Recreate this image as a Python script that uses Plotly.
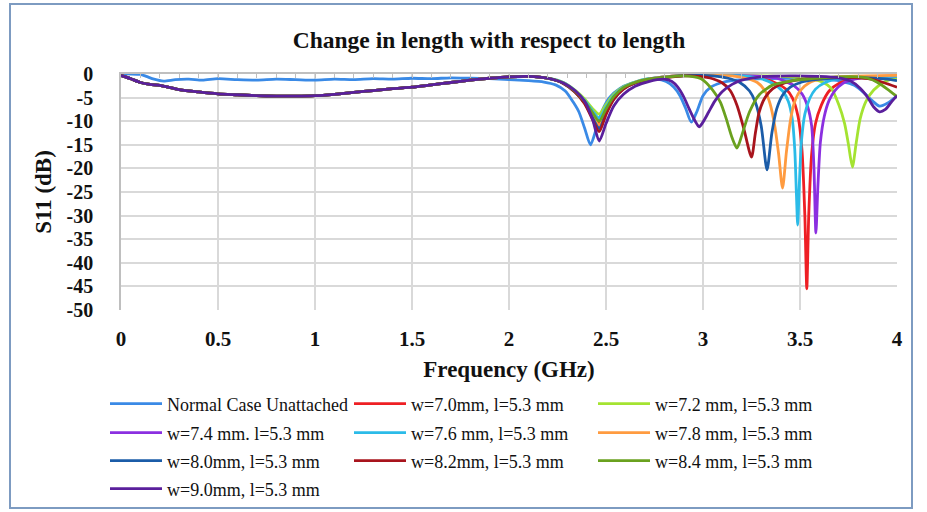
import plotly.graph_objects as go

FONT = "Liberation Serif, Times New Roman, serif"

# ---------------- data ----------------
X_TICKS = [0, 0.5, 1, 1.5, 2, 2.5, 3, 3.5, 4]
X_TICK_TEXT = ["0", "0.5", "1", "1.5", "2", "2.5", "3", "3.5", "4"]
Y_TICKS = [0, -5, -10, -15, -20, -25, -30, -35, -40, -45, -50]
Y_TICK_TEXT = ["0", "-5", "-10", "-15", "-20", "-25", "-30", "-35", "-40", "-45", "-50"]

# Normal case (unattached)
NORMAL_F = [0.00, 0.05, 0.10, 0.13, 0.17, 0.22, 0.28, 0.35, 0.42, 0.50, 0.60, 0.70, 0.80,
            0.90, 1.00, 1.10, 1.20, 1.30, 1.40, 1.50, 1.60, 1.70, 1.80, 1.90, 2.00, 2.10,
            2.18, 2.24, 2.29, 2.33, 2.36, 2.39, 2.42, 2.45, 2.48, 2.52, 2.57, 2.63, 2.70,
            2.76, 2.81, 2.85, 2.88, 2.91, 2.94, 2.97, 3.00, 3.04, 3.09, 3.15, 3.25, 3.40,
            3.55, 3.65, 3.72, 3.78, 3.83, 3.87, 3.91, 3.95, 4.00]
NORMAL_DB = [0.0, 0.0, -0.1, -0.5, -1.1, -1.5, -1.2, -1.1, -1.3, -1.0, -1.2, -1.3, -1.1,
             -1.2, -1.3, -1.1, -1.2, -1.0, -1.1, -0.9, -1.0, -0.8, -0.9, -1.0, -1.2, -1.4,
             -1.7, -2.3, -3.6, -5.9, -8.0, -11.5, -15.0, -11.6, -7.8, -4.9, -3.1, -2.0, -1.4,
             -1.1, -1.6, -2.8, -4.5, -7.2, -10.2, -7.8, -4.6, -2.8, -1.9, -1.4, -1.1, -0.9,
             -1.0, -1.2, -1.6, -2.4, -4.0, -5.6, -6.8, -6.2, -4.6]

# Low band shared by all attached cases (curves overlap there)
W_BASE_F = [0.00, 0.05, 0.10, 0.15, 0.20, 0.30, 0.40, 0.50, 0.60, 0.70, 0.80, 0.90,
            1.00, 1.10, 1.20, 1.30, 1.40, 1.50, 1.60, 1.70, 1.80, 1.90, 2.00, 2.10, 2.20]
W_BASE_DB = [-0.3, -1.0, -1.8, -2.2, -2.4, -3.3, -3.8, -4.2, -4.4, -4.6, -4.7, -4.7,
             -4.6, -4.3, -3.9, -3.5, -3.1, -2.8, -2.3, -1.8, -1.3, -0.9, -0.6, -0.5, -0.9]

# First resonance (around 2.46 GHz) sample frequencies
W_DIP1_F = [2.28, 2.34, 2.39, 2.43, 2.465, 2.50, 2.54, 2.59, 2.65, 2.72, 2.80]

# w = 7.0 mm
W70_DIP1_DB = [-1.9, -3.7, -6.0, -8.6, -10.5, -7.7, -5.0, -3.0, -1.8, -1.1, -0.6]
W70_F = [2.95, 3.10, 3.25, 3.33, 3.39, 3.43, 3.46, 3.49, 3.51, 3.525, 3.535, 3.545,
         3.56, 3.58, 3.61, 3.65, 3.70, 3.77, 3.85, 4.00]
W70_DB = [-0.3, -0.3, -0.6, -1.2, -2.2, -3.3, -5.0, -9.0, -16.0, -30.0, -45.5, -30.0,
          -17.0, -10.5, -6.6, -3.6, -2.0, -1.1, -0.6, -0.4]

# w = 7.2 mm
W72_DIP1_DB = [-1.8, -3.4, -5.3, -7.3, -8.5, -6.5, -4.3, -2.7, -1.7, -1.0, -0.6]
W72_F = [2.95, 3.10, 3.30, 3.45, 3.55, 3.62, 3.66, 3.70, 3.73, 3.75, 3.77, 3.79,
         3.81, 3.84, 3.88, 3.93, 3.97, 4.00]
W72_DB = [-0.3, -0.3, -0.4, -0.6, -1.0, -1.8, -3.0, -6.5, -10.5, -15.0, -19.7, -14.5,
          -9.5, -5.8, -3.4, -1.8, -1.1, -0.8]

# w = 7.4 mm
W74_DIP1_DB = [-1.9, -3.7, -6.1, -9.0, -11.2, -8.1, -5.2, -3.1, -1.9, -1.1, -0.6]
W74_F = [2.95, 3.10, 3.25, 3.38, 3.47, 3.51, 3.54, 3.56, 3.572, 3.582, 3.592, 3.605,
         3.625, 3.65, 3.68, 3.72, 3.78, 3.86, 4.00]
W74_DB = [-0.3, -0.3, -0.4, -0.9, -2.5, -4.2, -7.0, -11.0, -20.0, -33.7, -24.0, -14.5,
          -9.0, -5.6, -3.5, -2.0, -1.1, -0.6, -0.5]

# w = 7.6 mm
W76_DIP1_DB = [-1.8, -3.5, -5.6, -7.8, -9.3, -7.0, -4.6, -2.8, -1.7, -1.0, -0.6]
W76_F = [2.95, 3.10, 3.20, 3.30, 3.36, 3.41, 3.44, 3.46, 3.473, 3.482, 3.488, 3.496,
         3.508, 3.525, 3.55, 3.58, 3.63, 3.70, 3.80, 4.00]
W76_DB = [-0.3, -0.3, -0.4, -1.0, -2.0, -3.6, -5.8, -9.5, -16.0, -26.0, -32.0, -24.0,
          -14.0, -8.5, -5.2, -3.2, -1.8, -1.0, -0.6, -0.5]

# w = 7.8 mm
W78_DIP1_DB = [-1.9, -3.7, -6.0, -8.8, -10.8, -7.9, -5.1, -3.0, -1.8, -1.1, -0.6]
W78_F = [2.95, 3.05, 3.15, 3.22, 3.28, 3.32, 3.345, 3.37, 3.39, 3.41, 3.43, 3.45,
         3.47, 3.50, 3.55, 3.62, 3.75, 4.00]
W78_DB = [-0.3, -0.3, -0.4, -0.9, -1.8, -3.6, -6.2, -11.0, -17.0, -24.2, -16.5, -10.0,
          -6.2, -3.6, -1.8, -1.0, -0.5, -0.3]

# w = 8.0 mm
W80_DIP1_DB = [-2.0, -3.8, -6.2, -9.2, -11.6, -8.3, -5.3, -3.1, -1.9, -1.2, -0.7]
W80_F = [2.95, 3.05, 3.13, 3.19, 3.24, 3.27, 3.30, 3.33, 3.355, 3.38, 3.41, 3.45,
         3.51, 3.58, 3.70, 3.85, 3.95, 4.00]
W80_DB = [-0.3, -0.4, -0.9, -1.8, -3.6, -6.0, -11.0, -20.3, -12.5, -7.4, -4.5, -2.8,
          -1.7, -1.2, -0.8, -0.8, -1.1, -1.4]

# w = 8.2 mm
W82_DIP1_DB = [-2.0, -3.8, -6.3, -9.6, -12.2, -8.6, -5.4, -3.2, -1.9, -1.2, -0.8]
W82_F = [2.90, 2.98, 3.05, 3.10, 3.14, 3.175, 3.21, 3.25, 3.27, 3.29, 3.32, 3.36,
         3.42, 3.48, 3.60, 3.75, 3.85, 3.93, 4.00]
W82_DB = [-0.4, -0.5, -1.0, -1.9, -3.5, -6.6, -11.5, -17.6, -12.5, -8.0, -5.0, -3.1,
          -1.9, -1.3, -0.8, -0.7, -1.0, -1.8, -2.8]

# w = 8.4 mm
W84_DIP1_DB = [-1.9, -3.6, -5.8, -8.2, -10.0, -7.4, -4.8, -2.9, -1.8, -1.1, -0.7]
W84_F = [2.90, 2.99, 3.05, 3.09, 3.12, 3.15, 3.175, 3.20, 3.24, 3.29, 3.36, 3.45,
         3.56, 3.70, 3.80, 3.85, 3.90, 3.95, 4.00]
W84_DB = [-0.4, -1.0, -3.4, -6.0, -9.5, -13.5, -15.7, -13.0, -8.0, -4.4, -2.3, -1.5,
          -1.0, -0.6, -0.6, -0.9, -1.8, -3.2, -4.8]

# w = 9.0 mm
W90_DIP1_DB = [-1.9, -3.5, -5.8, -9.5, -14.2, -10.5, -6.8, -4.3, -2.6, -1.6, -1.1]
W90_F = [2.84, 2.87, 2.90, 2.93, 2.96, 2.98, 3.00, 3.03, 3.06, 3.10, 3.15, 3.20,
         3.30, 3.45, 3.60, 3.70, 3.76, 3.81, 3.85, 3.88, 3.91, 3.94, 3.97, 4.00]
W90_DB = [-1.6, -2.8, -4.8, -7.5, -10.0, -11.2, -10.2, -8.0, -5.8, -3.7, -2.2, -1.3,
          -0.6, -0.4, -0.5, -0.8, -1.5, -3.0, -5.0, -7.0, -8.0, -7.5, -6.0, -4.6]

SERIES = [
    ("Normal Case Unattached", "#3a8ae6", NORMAL_F, NORMAL_DB, None, False, "legend"),
    ("w=7.0mm, l=5.3 mm", "#ee1f24", W70_F, W70_DB, W70_DIP1_DB, True, "legend"),
    ("w=7.2 mm, l=5.3 mm", "#a4e331", W72_F, W72_DB, W72_DIP1_DB, True, "legend"),
    ("w=7.4 mm. l=5.3 mm", "#8b2fe0", W74_F, W74_DB, W74_DIP1_DB, True, "legend2"),
    ("w=7.6 mm, l=5.3 mm", "#2bbbe8", W76_F, W76_DB, W76_DIP1_DB, True, "legend2"),
    ("w=7.8 mm, l=5.3 mm", "#ff9b40", W78_F, W78_DB, W78_DIP1_DB, True, "legend2"),
    ("w=8.0mm, l=5.3 mm", "#1b5ca8", W80_F, W80_DB, W80_DIP1_DB, True, "legend3"),
    ("w=8.2mm, l=5.3 mm", "#a8141d", W82_F, W82_DB, W82_DIP1_DB, True, "legend3"),
    ("w=8.4 mm, l=5.3 mm", "#6aa11f", W84_F, W84_DB, W84_DIP1_DB, True, "legend3"),
    ("w=9.0mm, l=5.3 mm", "#5a1f9c", W90_F, W90_DB, W90_DIP1_DB, True, "legend4"),
]

fig = go.Figure()
for name, color, f_hi, db_hi, dip1, attached, leg in SERIES:
    if attached:
        xs = W_BASE_F + W_DIP1_F + f_hi
        ys = W_BASE_DB + dip1 + db_hi
    else:
        xs, ys = f_hi, db_hi
    fig.add_trace(go.Scatter(
        x=xs, y=ys, mode="lines", name=name, legend=leg,
        line=dict(color=color, width=2.8, shape="spline", smoothing=0.7),
    ))

# empty trace to carry the top axis line (y = 0 axis with minor ticks)
fig.add_trace(go.Scatter(x=[], y=[], xaxis="x2", showlegend=False, hoverinfo="skip"))

L, R, T, B = 121, 30, 74, 202
W, H = 927, 512
pw, ph = W - L - R, H - T - B

def px_to_paper_x(px):
    return (px - L) / pw

def px_to_paper_y(py):
    return (H - B - py) / ph

leg_common = dict(
    orientation="h", x=px_to_paper_x(105), xanchor="left", yanchor="middle",
    entrywidth=177, entrywidthmode="pixels", itemwidth=52,
    font=dict(family=FONT, size=18, color="#111111"),
    bgcolor="rgba(0,0,0,0)", traceorder="normal",
)

fig.update_layout(
    width=W, height=H,
    margin=dict(l=L, r=R, t=T, b=B, autoexpand=False),
    paper_bgcolor="white", plot_bgcolor="white",
    title=dict(text="Change in length with respect to length",
               font=dict(family=FONT, size=23.5, color="#111111", weight="bold"),
               x=489 / W, xref="container", xanchor="center",
               y=1 - 40 / H, yref="container", yanchor="middle"),
    xaxis=dict(range=[0, 4], tickvals=X_TICKS, ticktext=X_TICK_TEXT,
               showgrid=True, gridcolor="#d9d9d9", gridwidth=1.5,
               zeroline=False, showline=False, ticks="",
               tickfont=dict(family=FONT, size=21, color="#111111", weight="bold"),
               ticklabelstandoff=14,
               title=dict(text="Frequency (GHz)", standoff=10,
                          font=dict(family=FONT, size=23, color="#111111", weight="bold"))),
    xaxis2=dict(range=[0, 4], overlaying="x", side="top", anchor="y",
                showgrid=False, zeroline=False, showline=True, linecolor="#bfbfbf",
                linewidth=1.5, ticks="inside", ticklen=4, tickcolor="#bfbfbf",
                tick0=0, dtick=0.1, showticklabels=False),
    yaxis=dict(range=[-50, 0], tickvals=Y_TICKS, ticktext=Y_TICK_TEXT,
               showgrid=True, gridcolor="#d9d9d9", gridwidth=1.5,
               zeroline=False, showline=True, linecolor="#bfbfbf", linewidth=1.5,
               ticks="",
               tickfont=dict(family=FONT, size=20, color="#111111", weight="bold"),
               ticklabelstandoff=22,
               title=dict(text="S11 (dB)", standoff=9,
                          font=dict(family=FONT, size=23, color="#111111", weight="bold"))),
    legend=dict(leg_common, y=px_to_paper_y(404)),
    legend2=dict(leg_common, y=px_to_paper_y(433)),
    legend3=dict(leg_common, y=px_to_paper_y(461)),
    legend4=dict(leg_common, y=px_to_paper_y(489)),
    shapes=[dict(type="rect", xref="paper", yref="paper",
                 x0=px_to_paper_x(10), x1=px_to_paper_x(912),
                 y0=px_to_paper_y(508), y1=px_to_paper_y(4),
                 line=dict(color="#7d9bc1", width=2), fillcolor="rgba(0,0,0,0)",
                 layer="below")],
    showlegend=True,
)

fig.write_html("out.html", config={"displayModeBar": False},
               post_script="document.body.style.margin='0';")
